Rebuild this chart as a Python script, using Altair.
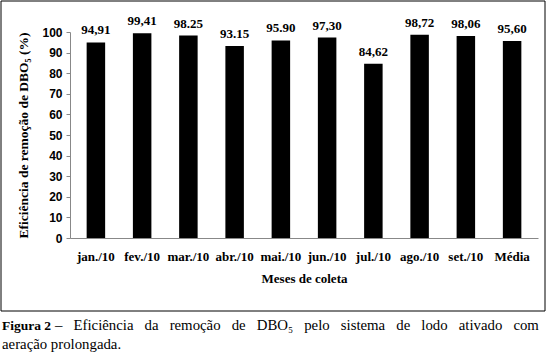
import altair as alt
import pandas as pd

meses = ["jan./10", "fev./10", "mar./10", "abr./10", "mai./10", "jun./10",
         "jul./10", "ago./10", "set./10", "Média"]
valores = [94.91, 99.41, 98.25, 93.15, 95.90, 97.30, 84.62, 98.72, 98.06, 95.60]
rotulos = ["94,91", "99,41", "98.25", "93.15", "95.90", "97,30", "84,62", "98,72", "98,06", "95,60"]
y_ticks = list(range(0, 101, 10))

df = pd.DataFrame({"mes": meses, "valor": valores, "rotulo": rotulos})

SERIF = "Liberation Serif"
SANS = "Liberation Sans"
NB = "\u00a0"

x_enc = alt.X(
    "mes:N", sort=meses,
    scale=alt.Scale(paddingInner=0.6, paddingOuter=0.36),
    axis=alt.Axis(
        title="Meses de coleta", labelAngle=0, ticks=False,
        domainColor="#888888", labelFont=SERIF, labelFontWeight="bold",
        labelFontSize=13, labelColor="black", labelPadding=12,
        titleFont=SERIF, titleFontWeight="bold", titleFontSize=13,
        titleColor="black", titlePadding=9,
    ),
)
y_enc = alt.Y(
    "valor:Q",
    scale=alt.Scale(domain=[0, 100], nice=False),
    axis=alt.Axis(
        values=y_ticks, grid=False, domainColor="#888888", tickColor="#888888",
        tickSize=4, labelFont=SANS, labelFontWeight="bold", labelFontSize=12,
        labelColor="black", labelPadding=4, labelOverlap=False,
        title="Eficiência de remoção de DBO₅ (%)", titleFont=SERIF,
        titleFontWeight="bold", titleFontSize=13.5, titleColor="black",
        titlePadding=11,
    ),
)

base = alt.Chart(df).encode(x=x_enc, y=y_enc)
bars = base.mark_bar(color="black")
labels = base.mark_text(
    baseline="bottom", dy=-5, font=SERIF, fontWeight="bold", fontSize=13,
    color="black",
).encode(text="rotulo:N")

one = alt.Chart(pd.DataFrame({"k": [0]}))
border = one.mark_rect(fillOpacity=0, stroke="black", strokeWidth=1).encode(
    x=alt.value(-69), x2=alt.value(475), y=alt.value(-31), y2=alt.value(279)
)
cap_bold = one.mark_text(
    align="left", baseline="alphabetic", font=SERIF, fontWeight="bold",
    fontSize=13.5, color="black",
).encode(x=alt.value(-68), y=alt.value(298), text=alt.value("Figura 2"))
line1 = "– Eficiência da remoção de DBO₅ pelo sistema de lodo ativado com"
cap_rest = one.mark_text(
    align="left", baseline="alphabetic", font=SERIF, fontSize=14.8, color="black",
).encode(x=alt.value(-15), y=alt.value(298),
         text=alt.value(line1.replace(" ", NB * 3)))
cap_line2 = one.mark_text(
    align="left", baseline="alphabetic", font=SERIF, fontSize=14.8, color="black",
).encode(x=alt.value(-68), y=alt.value(317),
         text=alt.value("aeração prolongada."))

chart = (
    alt.layer(bars, labels, border, cap_bold, cap_rest, cap_line2)
    .properties(
        width=468, height=206,
        autosize=alt.AutoSizeParams(type="none"),
        padding={"left": 70, "top": 32, "right": 9, "bottom": 115},
        background="white",
    )
    .configure_view(stroke=None)
)

chart.save("out.html", embed_options={"renderer": "svg", "actions": False})
